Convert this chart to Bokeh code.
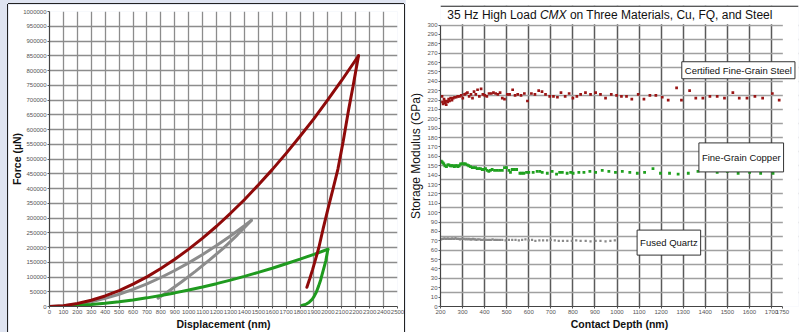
from bokeh.plotting import figure
from bokeh.layouts import row
from bokeh.models import Range1d, FixedTicker, NumeralTickFormatter, Label, BoxAnnotation
from bokeh.embed import file_html
from bokeh.resources import INLINE

# ---------------- Left panel: force vs displacement ----------------
disp_ticks = list(range(0, 2501, 100))
force_ticks = list(range(0, 1000001, 50000))

steel_load_x = [0, 100, 200, 300, 400, 500, 600, 700, 800, 900, 1000, 1100, 1200,
                1300, 1400, 1500, 1600, 1700, 1800, 1900, 2000, 2100, 2220]
steel_load_y = [0, 2800, 9900, 21000, 35700, 54000, 75600, 100500, 128600, 160000,
                194500, 232000, 272000, 316000, 362000, 412000, 464000, 519000,
                577000, 637000, 701000, 767000, 850000]
steel_unload_x = [2220, 2180, 2150, 2110, 2072, 2035, 2000, 1965, 1935, 1910, 1890, 1870, 1849]
steel_unload_y = [850000, 745000, 670000, 560000, 466000, 395000, 330000, 262000,
                  200000, 158000, 125000, 95000, 65000]

fq_load_x = [0, 100, 200, 300, 400, 500, 600, 700, 800, 900, 1000, 1100, 1200, 1300, 1400, 1450]
fq_load_y = [0, 2200, 7800, 16300, 27700, 41600, 58100, 77000, 98300, 122000, 147900,
             176100, 206600, 239100, 273800, 292000]
fq_unload_x = [1450, 1350, 1250, 1150, 1050, 950, 850, 780]
fq_unload_y = [292000, 243000, 198000, 158000, 120000, 84000, 50000, 28000]

cu_load_x = [0, 100, 200, 300, 400, 500, 600, 700, 800, 900, 1000, 1100, 1200, 1300,
             1400, 1500, 1600, 1700, 1800, 1900, 2000]
cu_load_y = [0, 900, 3100, 6400, 10700, 16000, 22200, 29300, 37300, 46100, 55700, 66100,
             77400, 89400, 102000, 115600, 129800, 144800, 160500, 176900, 194000]
cu_unload_x = [2000, 1985, 1962, 1948, 1933, 1918, 1902, 1885, 1866, 1848, 1830, 1813]
cu_unload_y = [194000, 155000, 115000, 90000, 69000, 50000, 35000, 23000, 14600, 9000, 5800, 3400]

# ---------------- Right panel: storage modulus vs contact depth ----------------
depth_ticks = list(range(200, 1701, 100)) + [1750]
modulus_ticks = list(range(0, 301, 10))
modulus_grid = list(range(15, 301, 15))

steel_pts = [(207, 224), (209, 218), (212, 216), (216, 221), (219, 219), (222, 217), (226, 215),
             (229, 219), (233, 218), (237, 221), (241, 219), (246, 222), (252, 220), (258, 222),
             (264, 223), (271, 223), (278, 224), (286, 224), (294, 225), (301, 222), (309, 226),
             (316, 227), (322, 228), (330, 224), (338, 226), (345, 222), (352, 229), (360, 226),
             (368, 231), (376, 224), (384, 232), (392, 226), (401, 225), (410, 224), (420, 227),
             (430, 227), (440, 228), (450, 227), (460, 226), (470, 228), (480, 222), (490, 221),
             (503, 226), (513, 226), (527, 231), (538, 225), (550, 226), (565, 225), (580, 227),
             (594, 219), (612, 227), (628, 226), (645, 230), (660, 229), (676, 226), (695, 224),
             (712, 224), (730, 223), (746, 228), (765, 224), (783, 227), (800, 222), (818, 224),
             (835, 226), (857, 228), (880, 226), (903, 228), (925, 226), (948, 222), (974, 226),
             (998, 225), (1020, 224), (1043, 224), (1067, 221), (1096, 226), (1122, 221),
             (1149, 225), (1176, 225), (1205, 223), (1232, 220), (1270, 233), (1292, 220),
             (1329, 230), (1357, 222), (1389, 222), (1421, 224), (1454, 224), (1487, 222),
             (1525, 228), (1554, 222), (1589, 222), (1625, 224), (1660, 222), (1704, 227),
             (1735, 220)]

copper_pts = [(203, 155), (207, 154), (211, 153), (215, 152), (220, 150), (227, 149), (233, 151),
              (238, 151), (245, 150), (251, 150), (257, 150), (263, 149), (268, 150), (274, 150),
              (279, 149), (285, 150), (291, 152), (297, 152), (303, 152), (308, 152), (313, 152),
              (321, 151), (328, 150), (336, 149), (344, 148), (351, 148), (359, 148), (366, 147),
              (374, 147), (381, 147), (389, 146), (396, 146), (404, 147), (411, 145), (419, 144),
              (426, 145), (434, 146), (445, 145), (457, 145), (468, 145), (480, 145), (490, 148),
              (499, 148), (510, 145), (517, 143), (525, 146), (535, 146), (545, 146), (560, 142),
              (569, 142), (578, 142), (590, 143), (600, 143), (620, 143), (638, 144), (650, 144),
              (661, 143), (684, 142), (706, 144), (726, 141), (740, 143), (752, 143), (774, 142),
              (790, 143), (801, 142), (827, 143), (850, 143), (877, 144), (903, 143), (933, 145),
              (963, 144), (993, 143), (1024, 144), (1058, 143), (1092, 142), (1125, 143),
              (1163, 147), (1197, 142), (1238, 142), (1277, 141), (1323, 142), (1367, 144),
              (1409, 146), (1454, 143), (1500, 144), (1549, 142), (1601, 143), (1651, 142),
              (1707, 142)]

quartz_pts = [(203, 71.5), (208, 72), (213, 72), (218, 72.5), (223, 72), (228, 72), (233, 72.5),
              (238, 72), (243, 72), (248, 72), (253, 72.5), (258, 72), (263, 72), (268, 73),
              (273, 72), (278, 72), (283, 72), (288, 71.5), (293, 72), (298, 72), (303, 72),
              (308, 72), (313, 71.5), (318, 72), (323, 71.5), (328, 72), (333, 71.5), (338, 71.5),
              (343, 71.5), (348, 72), (353, 71.5), (358, 71.5), (363, 71), (370, 71.5),
              (377, 71.5), (384, 71), (391, 71), (398, 71.5), (405, 71), (412, 71), (420, 71),
              (428, 71), (436, 71.5), (444, 71), (452, 71), (460, 71), (470, 71), (480, 71),
              (495, 70.5), (510, 71), (525, 71), (540, 71), (555, 70.5), (570, 71), (585, 71.5),
              (600, 70.5), (615, 71), (630, 70), (648, 70.5), (665, 70.5), (683, 70.5),
              (700, 71), (718, 70.5), (736, 70), (755, 70), (775, 70), (795, 70), (815, 70.5),
              (835, 70), (858, 70), (880, 69.5), (903, 70), (925, 70), (948, 69.5), (970, 70),
              (990, 70.5)]

FONT = "Liberation Sans"


def style_axis(ax, ticks):
    ax.ticker = FixedTicker(ticks=ticks)
    ax.major_label_text_font = FONT
    ax.major_label_text_font_size = "6px"
    ax.major_label_text_color = "#555555"
    ax.minor_tick_line_color = None
    ax.major_tick_out = 2
    ax.major_tick_in = 0
    ax.major_tick_line_color = "#555555"
    ax.major_label_standoff = 1
    ax.axis_line_color = "#444444"
    ax.axis_line_width = 1.2
    ax.axis_label_text_font = FONT
    ax.axis_label_text_font_style = "bold"
    ax.axis_label_text_font_size = "10.5px"
    ax.axis_label_text_color = "#111111"
    ax.axis_label_standoff = 1


# ---------------- Left figure ----------------
left = figure(width=396, height=328, margin=(4, 0, 0, 8),
              x_range=Range1d(0, 2500), y_range=Range1d(0, 1000000),
              output_backend="svg", toolbar_location=None,
              min_border_left=41, min_border_right=7, min_border_top=7, min_border_bottom=25)
left.title_location = None
left.outline_line_color = None
left.background_fill_color = "white"
left.border_fill_color = "white"
style_axis(left.xaxis[0], disp_ticks)
style_axis(left.yaxis[0], force_ticks)
left.yaxis[0].axis_label_standoff = -3
left.yaxis[0].formatter = NumeralTickFormatter(format="0")
left.xaxis[0].axis_label = "Displacement (nm)"
left.yaxis[0].axis_label = "Force (\u00b5N)"
left.xgrid[0].ticker = FixedTicker(ticks=disp_ticks[1:-1])
left.ygrid[0].ticker = FixedTicker(ticks=force_ticks[1:])
for g in (left.xgrid[0], left.ygrid[0]):
    g.grid_line_color = "#8c8c8c"
    g.grid_line_width = 1.3

red = "#8f0a0a"
green = "#1f9a1f"
gray = "#8c8c8c"
lw = 3
left.line(fq_load_x, fq_load_y, line_color=gray, line_width=lw, line_cap="round")
left.line(fq_unload_x, fq_unload_y, line_color=gray, line_width=lw, line_cap="round")
left.line(cu_load_x, cu_load_y, line_color=green, line_width=lw, line_cap="round")
left.line(cu_unload_x, cu_unload_y, line_color=green, line_width=lw, line_cap="round")
left.line(steel_load_x, steel_load_y, line_color=red, line_width=lw, line_cap="round")
left.line(steel_unload_x, steel_unload_y, line_color=red, line_width=lw, line_cap="round")
left.styles = {"box-shadow": "0 -1px 0 #222222, -1px 0 0 #222222, 1px 0 0 #222222"}

# ---------------- Right figure ----------------
Y_TOP = 320.8
right = figure(width=395, height=334, margin=(-2, 0, 0, 1),
               x_range=Range1d(200, 1822.5), y_range=Range1d(0, Y_TOP),
               output_backend="svg", toolbar_location=None,
               min_border_left=35, min_border_right=2, min_border_top=0, min_border_bottom=25)
right.title_location = None
right.outline_line_color = None
right.background_fill_color = "white"
right.border_fill_color = "white"
style_axis(right.xaxis[0], depth_ticks)
style_axis(right.yaxis[0], modulus_ticks)
right.xaxis[0].bounds = (200, 1750)
right.yaxis[0].bounds = (0, 300)
right.yaxis[0].axis_label_text_font_style = "normal"
right.yaxis[0].axis_label_text_font_size = "12px"
right.yaxis[0].axis_label_standoff = 1
right.xaxis[0].axis_label = "Contact Depth (nm)"
right.yaxis[0].axis_label = "Storage Modulus (GPa)"
right.xgrid[0].ticker = FixedTicker(ticks=depth_ticks[1:-1])
right.ygrid[0].ticker = FixedTicker(ticks=modulus_grid)
right.xgrid[0].grid_line_color = "#5a5a5a"
right.xgrid[0].grid_line_width = 1.5
right.ygrid[0].grid_line_color = "#a0a0a0"
right.ygrid[0].grid_line_width = 1.5

right.scatter([p[0] for p in quartz_pts], [p[1] for p in quartz_pts], marker="square",
              size=2.2, fill_color="#8a8a8a", line_color=None)
right.scatter([p[0] for p in copper_pts], [p[1] for p in copper_pts], marker="square",
              size=2.8, fill_color="#1fa01f", line_color=None)
right.scatter([p[0] for p in steel_pts], [p[1] for p in steel_pts], marker="square",
              size=2.7, fill_color="#9a1515", line_color=None)

# white masks so the grid stops at the plotting area (title strip and right margin)
right.add_layout(BoxAnnotation(bottom=300.8, fill_color="white", fill_alpha=1, line_color=None))
right.add_layout(BoxAnnotation(left=1751.5, fill_color="white", fill_alpha=1, line_color=None))
# thin dark rule along the top edge of the panel
right.add_layout(BoxAnnotation(bottom=Y_TOP - 1.2, fill_color="#222222", fill_alpha=1, line_color=None))

box_kw = dict(text_font=FONT, text_font_size="9.5px", text_color="#111111",
              text_align="center", text_baseline="middle",
              background_fill_color="white", border_line_color="#333333",
              border_line_width=1)
right.add_layout(Label(x=1550, y=251.8, text="Certified Fine-Grain Steel", padding=3, **box_kw))
right.add_layout(Label(x=1563, y=158.9, text="Fine-Grain Copper", padding=(3, 9), **box_kw))
right.add_layout(Label(x=1235, y=68.1, text="Fused Quartz", padding=(3, 7), **box_kw))

title_kw = dict(text_font=FONT, text_font_size="12px", text_color="#111111",
                text_align="left", text_baseline="alphabetic", y=310.4)
right.add_layout(Label(x=230.4, text="35 Hz High Load", **title_kw))
right.add_layout(Label(x=650.5, text="CMX", text_font_style="italic", **title_kw))
right.add_layout(Label(x=786.4, text="on Three Materials, Cu, FQ, and Steel", **title_kw))

p = row(left, right, styles={"background-color": "#dfe4f1"})
open("out.html", "w").write(file_html(p, INLINE))
